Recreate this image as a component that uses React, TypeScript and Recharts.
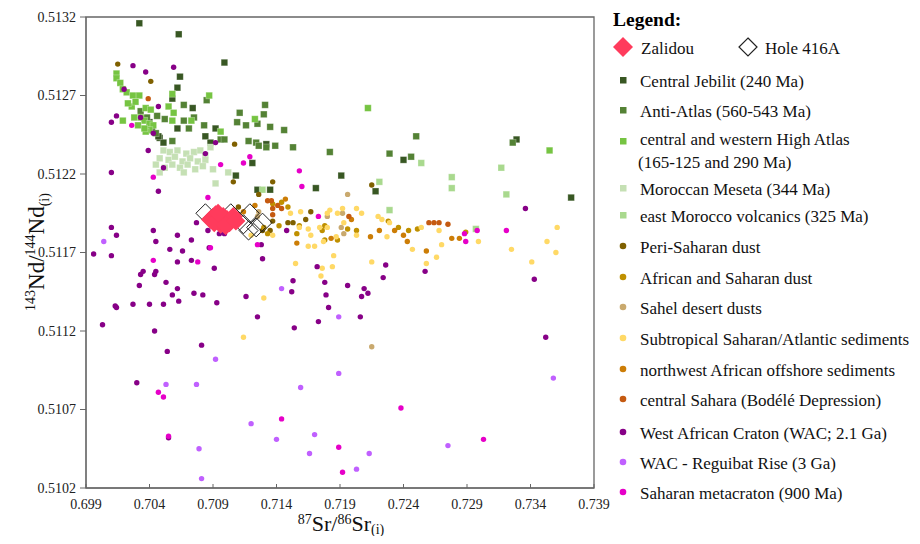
import React from 'react';
import { ScatterChart, Scatter, XAxis, YAxis, ReferenceArea } from 'recharts';

type Pt = [number, number];

const xTicks = [0.699, 0.704, 0.709, 0.714, 0.719, 0.724, 0.729, 0.734, 0.739];
const yTicks = [0.5102, 0.5107, 0.5112, 0.5117, 0.5122, 0.5127, 0.5132];

const zalidou: Pt[] = [
  [0.7088, 0.51191], [0.7092, 0.51194], [0.7095, 0.51191], [0.7098, 0.51193], [0.7101, 0.51191],
  [0.7103, 0.51189], [0.7106, 0.51193], [0.7096, 0.51188], [0.7091, 0.51189], [0.7100, 0.51187],
  [0.7108, 0.5119], [0.7094, 0.51195],
];

const hole416A: Pt[] = [
  [0.7084, 0.51195], [0.7090, 0.51192], [0.7104, 0.51195], [0.7119, 0.51195], [0.7114, 0.51188],
  [0.7124, 0.51186], [0.7129, 0.51189], [0.7118, 0.51184],
];

const centralJebilit: Pt[] = [
  [0.7032, 0.51316], [0.7063, 0.51309], [0.7099, 0.51291], [0.7064, 0.51282], [0.7062, 0.51275],
  [0.7058, 0.51268], [0.7074, 0.51262], [0.7062, 0.51249], [0.7040, 0.51253], [0.7039, 0.51248],
  [0.7042, 0.5125], [0.7048, 0.51243], [0.7051, 0.5124], [0.7047, 0.51244], [0.7084, 0.51244],
  [0.7092, 0.51249], [0.7088, 0.5124], [0.7121, 0.51227], [0.7132, 0.51239], [0.7240, 0.51229],
  [0.7329, 0.51242], [0.7108, 0.51219], [0.7125, 0.5121], [0.7135, 0.5121], [0.7191, 0.51219],
  [0.7171, 0.51211], [0.7218, 0.51209], [0.7372, 0.51205],
];

const antiAtlas: Pt[] = [
  [0.7067, 0.51264], [0.7085, 0.51267], [0.7111, 0.51259], [0.7109, 0.51253], [0.7116, 0.51251],
  [0.7125, 0.51252], [0.7067, 0.51254], [0.7071, 0.51249], [0.7075, 0.51256], [0.7083, 0.51251],
  [0.7052, 0.51255], [0.7046, 0.51257], [0.7045, 0.51246], [0.7058, 0.51241], [0.7096, 0.51242],
  [0.7099, 0.51242], [0.7118, 0.51241], [0.7124, 0.5124], [0.7131, 0.51264], [0.7130, 0.51258],
  [0.7135, 0.5125], [0.7146, 0.51248], [0.7126, 0.51238], [0.7132, 0.51237], [0.7139, 0.51238],
  [0.7153, 0.51237], [0.7182, 0.51234], [0.7229, 0.51233], [0.7246, 0.51231], [0.7250, 0.51244],
  [0.7326, 0.5124], [0.7038, 0.51256], [0.7033, 0.5126],
];

const highAtlas: Pt[] = [
  [0.7014, 0.51284], [0.7014, 0.51281], [0.7017, 0.51278], [0.7019, 0.51274], [0.7022, 0.51272],
  [0.7027, 0.5127], [0.7032, 0.5127], [0.7026, 0.51263], [0.7029, 0.51266], [0.7037, 0.51262],
  [0.7041, 0.51261], [0.7058, 0.51271], [0.7055, 0.51263], [0.7059, 0.51259], [0.7019, 0.51254],
  [0.7028, 0.51256], [0.7033, 0.51256], [0.7036, 0.51254], [0.7040, 0.51252], [0.7043, 0.51251],
  [0.7040, 0.51248], [0.7087, 0.5127], [0.7123, 0.51255], [0.7096, 0.51247], [0.7058, 0.51254],
  [0.7073, 0.51254], [0.7212, 0.51262], [0.7355, 0.51235], [0.7023, 0.51265], [0.7031, 0.51251],
  [0.7037, 0.51247], [0.7036, 0.51249],
];

const meseta: Pt[] = [
  [0.7051, 0.51235], [0.7056, 0.51234], [0.7062, 0.51235], [0.7069, 0.51233], [0.7075, 0.51234],
  [0.7080, 0.51235], [0.7084, 0.51232], [0.7088, 0.51237], [0.7048, 0.5123], [0.7055, 0.51229],
  [0.7060, 0.51231], [0.7066, 0.51228], [0.7072, 0.5123], [0.7078, 0.51228], [0.7084, 0.51229],
  [0.7045, 0.51226], [0.7052, 0.51224], [0.7058, 0.51226], [0.7064, 0.51224], [0.7070, 0.51226],
  [0.7076, 0.51223], [0.7082, 0.51225], [0.7090, 0.51223], [0.7048, 0.51221], [0.7067, 0.51221],
  [0.7102, 0.51221], [0.7092, 0.51214],
];

const eastMorocco: Pt[] = [
  [0.7254, 0.51227], [0.7317, 0.51224], [0.7278, 0.51218], [0.7278, 0.51211], [0.7321, 0.51207],
  [0.7297, 0.51185], [0.7129, 0.5121], [0.7221, 0.51215], [0.7229, 0.51197],
];

const periSaharan: Pt[] = [
  [0.7015, 0.5129], [0.7041, 0.51279], [0.7107, 0.51239], [0.7106, 0.51215], [0.7110, 0.51199],
  [0.7110, 0.51194], [0.7137, 0.51215], [0.7126, 0.51207], [0.7215, 0.51213], [0.7137, 0.5119],
  [0.7153, 0.51189], [0.7149, 0.51189], [0.7163, 0.51191], [0.7129, 0.51184], [0.7135, 0.51184],
  [0.7167, 0.51196],
];

const africanDust: Pt[] = [
  [0.7144, 0.51202], [0.7137, 0.51201], [0.7149, 0.51199], [0.7176, 0.51184], [0.7178, 0.51187],
  [0.7196, 0.51185], [0.7188, 0.51178], [0.7156, 0.51182], [0.7142, 0.51187], [0.7178, 0.51178],
  [0.7203, 0.51184], [0.7228, 0.5119], [0.7236, 0.51186], [0.7244, 0.51184], [0.7251, 0.51185],
  [0.7130, 0.51186], [0.7133, 0.51182], [0.7158, 0.51187], [0.7289, 0.51183], [0.7092, 0.51197],
];

const sahelDust: Pt[] = [
  [0.7196, 0.51207], [0.7180, 0.51193], [0.7192, 0.51195], [0.7191, 0.51186], [0.7193, 0.51182],
  [0.7126, 0.51196], [0.7125, 0.51193], [0.7215, 0.5111],
];

const subtropical: Pt[] = [
  [0.7151, 0.51195], [0.7159, 0.51196], [0.7182, 0.51197], [0.7180, 0.51195], [0.7188, 0.51195],
  [0.7192, 0.51198], [0.7203, 0.51198], [0.7207, 0.51195], [0.7193, 0.51189], [0.7180, 0.51186],
  [0.7174, 0.51186], [0.7158, 0.51186], [0.7165, 0.51185], [0.7167, 0.51181], [0.7177, 0.51177],
  [0.7187, 0.5118], [0.7203, 0.51181], [0.7165, 0.51174], [0.7170, 0.51174], [0.7185, 0.51168],
  [0.7176, 0.5116], [0.7184, 0.51161], [0.7175, 0.51155], [0.7155, 0.51163], [0.7130, 0.51141],
  [0.7215, 0.51164], [0.7220, 0.51193], [0.7223, 0.51191], [0.7229, 0.51189], [0.7227, 0.5118],
  [0.7247, 0.51172], [0.7254, 0.51186], [0.7268, 0.51184], [0.7270, 0.51175], [0.7266, 0.51167],
  [0.7258, 0.51163], [0.7299, 0.51177], [0.7325, 0.51172], [0.7361, 0.51186], [0.7353, 0.51177],
  [0.7360, 0.5117], [0.7341, 0.51164], [0.7120, 0.51181], [0.7114, 0.51116], [0.7137, 0.51181],
];

const nwOffshore: Pt[] = [
  [0.7183, 0.51179], [0.7199, 0.51191], [0.7214, 0.5118], [0.7221, 0.51184], [0.7233, 0.51184],
  [0.7243, 0.51177], [0.7240, 0.51181], [0.7258, 0.51171], [0.7156, 0.51176], [0.7278, 0.51179],
  [0.7284, 0.51179], [0.7114, 0.51196], [0.7123, 0.512], [0.7147, 0.51204],
];

const bodele: Pt[] = [
  [0.7133, 0.51203], [0.7136, 0.51203], [0.7137, 0.51198], [0.7141, 0.512], [0.7144, 0.51198],
  [0.7137, 0.51194], [0.7197, 0.51193], [0.7260, 0.51189], [0.7264, 0.51189], [0.7268, 0.51189],
  [0.7275, 0.51188], [0.7039, 0.51268],
];

const wac: Pt[] = [
  [0.7027, 0.51289], [0.7037, 0.51285], [0.7059, 0.51288], [0.7020, 0.51274], [0.7047, 0.51263],
  [0.7014, 0.51257], [0.7010, 0.51253], [0.7033, 0.51256], [0.7043, 0.51246], [0.7039, 0.51235],
  [0.7084, 0.51233], [0.7092, 0.5124], [0.7051, 0.51224], [0.7010, 0.51221], [0.7047, 0.51209],
  [0.7077, 0.51189], [0.7010, 0.51186], [0.7014, 0.51181], [0.7043, 0.51184], [0.7045, 0.51177],
  [0.7062, 0.51181], [0.7073, 0.51178], [0.7056, 0.51172], [0.7066, 0.51171], [0.7087, 0.51173],
  [0.6996, 0.51169], [0.7010, 0.51168], [0.7062, 0.51164], [0.7073, 0.51165], [0.7091, 0.5116],
  [0.7035, 0.51158], [0.7033, 0.51156], [0.7045, 0.51158], [0.7044, 0.51156], [0.7053, 0.51151],
  [0.7032, 0.51149], [0.7062, 0.51147], [0.7058, 0.51143], [0.7075, 0.51144], [0.7082, 0.51143],
  [0.7063, 0.51139], [0.7093, 0.51138], [0.7116, 0.51142], [0.7027, 0.51137], [0.7040, 0.51137],
  [0.7051, 0.51137], [0.7013, 0.51136], [0.7014, 0.51135], [0.7125, 0.51129], [0.7086, 0.51184],
  [0.7095, 0.51182], [0.7099, 0.51182], [0.7003, 0.51124], [0.7044, 0.5112], [0.7054, 0.51107],
  [0.7081, 0.51111], [0.7030, 0.51087], [0.7055, 0.51052], [0.7148, 0.51184], [0.7129, 0.51166],
  [0.7128, 0.51175], [0.7172, 0.51161], [0.7153, 0.51152], [0.7152, 0.51145], [0.7178, 0.51151],
  [0.7179, 0.51143], [0.7196, 0.51149], [0.7181, 0.51135], [0.7209, 0.51147], [0.7212, 0.51144],
  [0.7207, 0.51142], [0.7206, 0.51129], [0.7226, 0.51162], [0.7224, 0.51154], [0.7257, 0.51158],
  [0.7336, 0.51198], [0.7343, 0.51153], [0.7154, 0.51122], [0.7173, 0.51126], [0.7352, 0.51116],
];

const reguibat: Pt[] = [
  [0.7004, 0.51177], [0.7144, 0.51147], [0.7189, 0.51129], [0.7092, 0.51102], [0.7053, 0.51086],
  [0.7077, 0.51086], [0.7120, 0.51061], [0.7079, 0.51045], [0.7081, 0.51026], [0.7189, 0.51093],
  [0.7159, 0.51084], [0.7140, 0.51051], [0.7170, 0.51054], [0.7166, 0.51042], [0.7213, 0.51042],
  [0.7203, 0.51032], [0.7358, 0.5109], [0.7275, 0.51047],
];

const metacraton: Pt[] = [
  [0.7026, 0.51251], [0.7119, 0.51231], [0.7114, 0.51227], [0.7096, 0.51226], [0.7043, 0.51218],
  [0.7086, 0.51205], [0.7088, 0.51173], [0.7043, 0.51165], [0.7078, 0.51164], [0.7125, 0.51175],
  [0.7158, 0.51222], [0.7160, 0.51212], [0.7173, 0.51193], [0.7288, 0.51182], [0.7298, 0.51184],
  [0.7289, 0.51177], [0.7321, 0.51184], [0.7047, 0.51081], [0.7051, 0.51078], [0.7055, 0.51053],
  [0.7144, 0.51064], [0.7189, 0.51046], [0.7192, 0.5103], [0.7238, 0.51071], [0.7303, 0.51051],
];

type Kind = 'square' | 'dot' | 'diamond' | 'open';

const series: { name: string; data: Pt[]; color: string; kind: Kind }[] = [
  { name: 'Central Jebilit (240 Ma)', data: centralJebilit, color: '#385723', kind: 'square' },
  { name: 'Anti-Atlas (560-543 Ma)', data: antiAtlas, color: '#548235', kind: 'square' },
  { name: 'central and western High Atlas', data: highAtlas, color: '#76c442', kind: 'square' },
  { name: 'Moroccan Meseta (344 Ma)', data: meseta, color: '#c5e0b4', kind: 'square' },
  { name: 'east Morocco volcanics (325 Ma)', data: eastMorocco, color: '#a9d98e', kind: 'square' },
  { name: 'Peri-Saharan dust', data: periSaharan, color: '#7f6000', kind: 'dot' },
  { name: 'African and Saharan dust', data: africanDust, color: '#bf9000', kind: 'dot' },
  { name: 'Sahel desert dusts', data: sahelDust, color: '#c9a96e', kind: 'dot' },
  { name: 'Subtropical Saharan/Atlantic sediments', data: subtropical, color: '#ffd966', kind: 'dot' },
  { name: 'northwest African offshore sediments', data: nwOffshore, color: '#cc7d06', kind: 'dot' },
  { name: 'central Sahara (Bodélé Depression)', data: bodele, color: '#c55a11', kind: 'dot' },
  { name: 'West African Craton (WAC; 2.1 Ga)', data: wac, color: '#870087', kind: 'dot' },
  { name: 'WAC - Reguibat Rise (3 Ga)', data: reguibat, color: '#c060ff', kind: 'dot' },
  { name: 'Saharan metacraton (900 Ma)', data: metacraton, color: '#e600c8', kind: 'dot' },
  { name: 'Hole 416A', data: hole416A, color: '#222222', kind: 'open' },
  { name: 'Zalidou', data: zalidou, color: '#ff3b5c', kind: 'diamond' },
];

const toRows = (pts: Pt[]) => pts.map(([x, y]) => ({ x, y }));

const makeShape = (kind: Kind, color: string) => (props: any) => {
  const { cx, cy } = props;
  if (cx == null || cy == null) return <g />;
  if (kind === 'square')
    return <rect x={cx - 3.3} y={cy - 3.3} width={6.6} height={6.6} fill={color} stroke="#ffffff" strokeOpacity={0.35} strokeWidth={0.8} />;
  if (kind === 'dot') return <circle cx={cx} cy={cy} r={2.7} fill={color} />;
  const d = 9.5;
  const pts = `${cx},${cy - d} ${cx + d},${cy} ${cx},${cy + d} ${cx - d},${cy}`;
  if (kind === 'diamond') return <polygon points={pts} fill={color} />;
  return <polygon points={pts} fill="none" stroke={color} strokeWidth={1} />;
};

const font = '"Liberation Serif", "Times New Roman", serif';

// legend rows: label, marker, center y (page coords)
const legendRows: { label: string; color: string; kind: Kind; y: number; line2?: string }[] = [
  { label: 'Central Jebilit (240 Ma)', color: '#385723', kind: 'square', y: 80 },
  { label: 'Anti-Atlas (560-543 Ma)', color: '#548235', kind: 'square', y: 110 },
  { label: 'central and western High Atlas', line2: '(165-125 and 290 Ma)', color: '#76c442', kind: 'square', y: 138 },
  { label: 'Moroccan Meseta (344 Ma)', color: '#c5e0b4', kind: 'square', y: 188 },
  { label: 'east Morocco volcanics (325 Ma)', color: '#a9d98e', kind: 'square', y: 215 },
  { label: 'Peri-Saharan dust', color: '#7f6000', kind: 'dot', y: 246 },
  { label: 'African and Saharan dust', color: '#bf9000', kind: 'dot', y: 277 },
  { label: 'Sahel desert dusts', color: '#c9a96e', kind: 'dot', y: 307 },
  { label: 'Subtropical Saharan/Atlantic sediments', color: '#ffd966', kind: 'dot', y: 338 },
  { label: 'northwest African offshore sediments', color: '#cc7d06', kind: 'dot', y: 369 },
  { label: 'central Sahara (Bodélé Depression)', color: '#c55a11', kind: 'dot', y: 399 },
  { label: 'West African Craton (WAC; 2.1 Ga)', color: '#870087', kind: 'dot', y: 432 },
  { label: 'WAC - Reguibat Rise (3 Ga)', color: '#c060ff', kind: 'dot', y: 462 },
  { label: 'Saharan metacraton (900 Ma)', color: '#e600c8', kind: 'dot', y: 492 },
];

const Overlay = () => {
  const o = 8; // body margin offset
  return (
    <svg width={912} height={536} style={{ position: 'absolute', left: 0, top: 0, pointerEvents: 'none', overflow: 'visible' }} fontFamily={font}>
      <text x={613 - o} y={26 - o} fontSize={19.5} fontWeight="bold" fill="#000">Legend:</text>
      <polygon points={`${623 - o},${37 - o} ${633 - o},${47 - o} ${623 - o},${57 - o} ${613 - o},${47 - o}`} fill="#ff3b5c" />
      <text x={641 - o} y={48 - o} fontSize={17} dominantBaseline="central" fill="#111">Zalidou</text>
      <polygon points={`${748 - o},${38 - o} ${757 - o},${47 - o} ${748 - o},${56 - o} ${739 - o},${47 - o}`} fill="none" stroke="#222" strokeWidth={1.2} />
      <text x={765 - o} y={48 - o} fontSize={17} dominantBaseline="central" fill="#111">Hole 416A</text>
      {legendRows.map((r) => (
        <g key={r.label}>
          {r.kind === 'square' ? (
            <rect x={620 - o} y={r.y - o - 3 + (r.line2 ? 3 : 0)} width={6.5} height={6.5} fill={r.color} />
          ) : (
            <circle cx={623 - o} cy={r.y - o} r={3.3} fill={r.color} />
          )}
          <text x={640 - o} y={r.y + 1 - o} fontSize={17} dominantBaseline="central" fill="#111">{r.label}</text>
          {r.line2 && (
            <text x={638 - o} y={r.y + 24 - o} fontSize={17} dominantBaseline="central" fill="#111">{r.line2}</text>
          )}
        </g>
      ))}
      <text x={341 - o} y={531 - o} fontSize={22} textAnchor="middle" fill="#111">
        <tspan fontSize={14} dy={-7}>87</tspan>
        <tspan dy={7}>Sr/</tspan>
        <tspan fontSize={14} dy={-7}>86</tspan>
        <tspan dy={7}>Sr</tspan>
        <tspan fontSize={14} dy={3}>(i)</tspan>
      </text>
      <text x={0} y={0} fontSize={23} textAnchor="middle" fill="#111" transform={`translate(${44 - o},${252 - o}) rotate(-90)`}>
        <tspan fontSize={14} dy={-9}>143</tspan>
        <tspan dy={9}>Nd/</tspan>
        <tspan fontSize={14} dy={-9}>144</tspan>
        <tspan dy={9}>Nd</tspan>
        <tspan fontSize={14} dy={5}>(i)</tspan>
      </text>
    </svg>
  );
};

const App = () => {
  return (
    <div style={{ position: 'relative', width: 904, height: 528, fontFamily: font }}>
      <ScatterChart width={904} height={528} margin={{ top: 9, right: 318, bottom: 18, left: 8 }}>
        <ReferenceArea x1={0.699} x2={0.739} y1={0.5102} y2={0.5132} fill="none" stroke="#666" strokeWidth={1.3} ifOverflow="visible" />
        <XAxis
          type="number"
          dataKey="x"
          domain={[0.699, 0.739]}
          ticks={xTicks}
          tickFormatter={(v: number) => v.toFixed(3)}
          allowDataOverflow
          stroke="#666"
          tickSize={-4}
          tickMargin={15}
          height={30}
          tick={{ fontSize: 14, fill: '#222', fontFamily: font }}
        />
        <YAxis
          type="number"
          dataKey="y"
          domain={[0.5102, 0.5132]}
          ticks={yTicks}
          tickFormatter={(v: number) => v.toFixed(4)}
          allowDataOverflow
          stroke="#666"
          tickSize={6}
          tickMargin={4}
          width={70}
          tick={{ fontSize: 14, fill: '#222', fontFamily: font }}
        />
        {series.map((s) => (
          <Scatter
            key={s.name}
            name={s.name}
            data={toRows(s.data)}
            fill={s.color}
            shape={makeShape(s.kind, s.color)}
            isAnimationActive={false}
          />
        ))}
      </ScatterChart>
      <Overlay />
    </div>
  );
};

export default App;
